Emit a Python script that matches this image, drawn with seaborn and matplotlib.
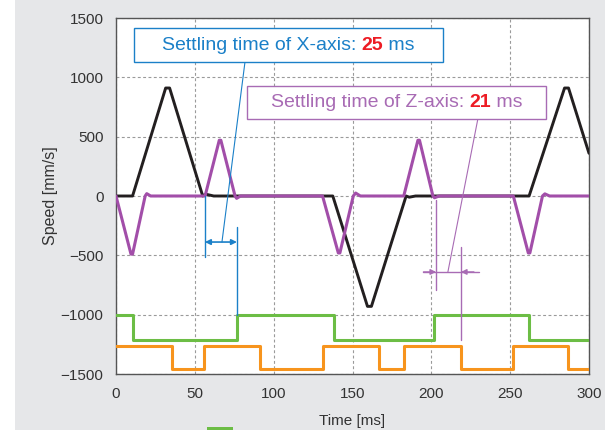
import numpy as np
import pandas as pd
import matplotlib
matplotlib.use("Agg")
import matplotlib.pyplot as plt
from matplotlib.patches import Rectangle
from matplotlib.offsetbox import TextArea, HPacker, AnnotationBbox
import seaborn as sns

# ---------------- data ----------------
x_speed_t = [0, 10.5, 31.5, 34, 55, 57, 62, 137.5, 159.5, 162, 184, 186, 190, 262, 284.5, 287, 300]
x_speed_v = [0, 0, 910, 910, 0, 15, 0, 0, -930, -930, 0, -10, 0, 0, 910, 910, 360]

z_speed_t = [0, 9.5, 10.5, 18.5, 19.5, 22, 56.5, 65.5, 66.5, 75.5, 76.5, 79,
             131, 141, 142, 150.5, 152, 155, 182.5, 191.5, 192.5, 201, 202, 205,
             252, 261.5, 262.5, 270.5, 272, 275, 300]
z_speed_v = [0, -490, -490, 0, 20, 0, 0, 470, 470, 0, -20, 0,
             0, -480, -480, 0, 25, 0, 0, 470, 470, 0, -15, 0,
             0, -480, -480, 0, 18, 0, 0]

x_inpos_t = [0, 10.5, 76.5, 138, 201.5, 262, 300]
x_inpos_v = [-1000, -1210, -1000, -1210, -1000, -1210, -1210]

z_inpos_t = [0, 35.5, 55.5, 91.5, 131, 167, 182.5, 219, 252, 286.5, 300]
z_inpos_v = [-1260, -1460, -1260, -1460, -1260, -1460, -1260, -1460, -1260, -1460, -1460]

x_ticks = [0, 50, 100, 150, 200, 250, 300]
y_ticks = [-1500, -1000, -500, 0, 500, 1000, 1500]

x_settle_label = ["Settling time of X-axis: ", "25", " ms"]
z_settle_label = ["Settling time of Z-axis: ", "21", " ms"]

# ---------------- style ----------------
sns.set_style("white")
plt.rcParams["font.family"] = ["Liberation Sans", "DejaVu Sans"]

BLACK = "#231f20"
PURPLE = "#a24ea9"
GREEN = "#6cbd45"
ORANGE = "#f7941d"
BLUE = "#1b80c8"
PURPLE_T = "#a86bb4"
RED = "#ed1c24"
GRAY_BG = "#e6e7e9"

fig = plt.figure(figsize=(6.05, 4.30), dpi=100)
fig.patch.set_facecolor("white")
fig.add_artist(Rectangle((15 / 605, 0), 1 - 15 / 605, 1, transform=fig.transFigure,
                         facecolor=GRAY_BG, edgecolor="none", zorder=-10))
fig.add_artist(Rectangle((207 / 605, 0), 26 / 605, 3 / 430, transform=fig.transFigure,
                         facecolor=GREEN, edgecolor="none", zorder=-9))

ax = fig.add_axes([116 / 605, 56 / 430, 473 / 605, 356 / 430])
ax.set_facecolor("white")


def step_frame(t, v):
    tt, vv = [], []
    for i in range(len(t)):
        if i > 0:
            tt.append(t[i]); vv.append(v[i - 1])
        tt.append(t[i]); vv.append(v[i])
    return pd.DataFrame({"t": tt, "v": vv})


df_x = pd.DataFrame({"t": x_speed_t, "v": x_speed_v})
df_z = pd.DataFrame({"t": z_speed_t, "v": z_speed_v})
df_gx = step_frame(x_inpos_t, x_inpos_v)
df_oz = step_frame(z_inpos_t, z_inpos_v)

kw = dict(x="t", y="v", estimator=None, sort=False, ax=ax, legend=False)
sns.lineplot(data=df_gx, color=GREEN, lw=2.2, zorder=3, **kw)
sns.lineplot(data=df_oz, color=ORANGE, lw=2.2, zorder=3, **kw)
sns.lineplot(data=df_x, color=BLACK, lw=2.1, zorder=4, **kw)
sns.lineplot(data=df_z, color=PURPLE, lw=2.2, zorder=5, **kw)

ax.set_xlim(0, 300)
ax.set_ylim(-1500, 1500)
ax.set_xticks(x_ticks)
ax.set_yticks(y_ticks)
ax.set_xticklabels([str(v) for v in x_ticks])
ax.set_yticklabels([str(v).replace("-", "\u2212") for v in y_ticks])
ax.tick_params(direction="in", length=5, width=1, color="#555555",
               labelsize=11, labelcolor="#333333", pad=9,
               top=False, right=False)
for s in ax.spines.values():
    s.set_color("#555555")
    s.set_linewidth(1.0)
ax.grid(True, which="major", color="#9a9a9a", linestyle=(0, (2.6, 2.2)), lw=0.8)
ax.set_axisbelow(True)
ax.set_xlabel("Time [ms]", fontsize=11, color="#333333", labelpad=10)
ax.set_ylabel("Speed [mm/s]", fontsize=11.5, color="#333333", labelpad=2)

# ---------------- annotations ----------------
def label_box(x0, x1, y0, y1, parts, color):
    ax.add_patch(Rectangle((x0, y0), x1 - x0, y1 - y0, facecolor="white",
                           edgecolor=color, lw=1.0, zorder=8))
    pk = HPacker(children=[
        TextArea(parts[0], textprops=dict(color=color, fontsize=14)),
        TextArea(parts[1], textprops=dict(color=RED, fontsize=14, fontweight="bold")),
        TextArea(parts[2], textprops=dict(color=color, fontsize=14)),
    ], align="baseline", pad=0, sep=0)
    ab = AnnotationBbox(pk, ((x0 + x1) / 2, (y0 + y1) / 2), frameon=False,
                        box_alignment=(0.5, 0.5), zorder=9)
    ax.add_artist(ab)


label_box(11.4, 207.4, 1129, 1415, x_settle_label, BLUE)
label_box(83.1, 272.7, 649, 927, z_settle_label, PURPLE_T)

# X-axis settling markers (blue)
ax.plot([56.4, 56.4], [0, -514], color=BLUE, lw=1, zorder=6)
ax.plot([76.7, 76.7], [-261, -1003], color=BLUE, lw=1, zorder=6)
ax.annotate("", xy=(56.4, -388), xytext=(76.7, -388),
            arrowprops=dict(arrowstyle="<|-|>", color=BLUE, lw=1.2,
                            mutation_scale=8, shrinkA=0, shrinkB=0), zorder=6)
ax.plot([81.8, 67.2], [1129, -388], color=BLUE, lw=0.8, zorder=6)

# Z-axis settling markers (purple)
ax.plot([203, 203], [-34, -792], color=PURPLE_T, lw=1, zorder=6)
ax.plot([218.8, 218.8], [-430, -1213], color=PURPLE_T, lw=1, zorder=6)
ax.plot([194.7, 230.2], [-640, -640], color=PURPLE_T, lw=1, zorder=6)
ax.annotate("", xy=(203, -640), xytext=(195, -640),
            arrowprops=dict(arrowstyle="-|>", color=PURPLE_T, lw=1,
                            mutation_scale=8, shrinkA=0, shrinkB=0), zorder=6)
ax.annotate("", xy=(218.8, -640), xytext=(227, -640),
            arrowprops=dict(arrowstyle="-|>", color=PURPLE_T, lw=1,
                            mutation_scale=8, shrinkA=0, shrinkB=0), zorder=6)
ax.plot([229.5, 210.5], [649, -640], color=PURPLE_T, lw=0.8, zorder=6)

fig.savefig("out.png", dpi=100, facecolor=fig.get_facecolor())
